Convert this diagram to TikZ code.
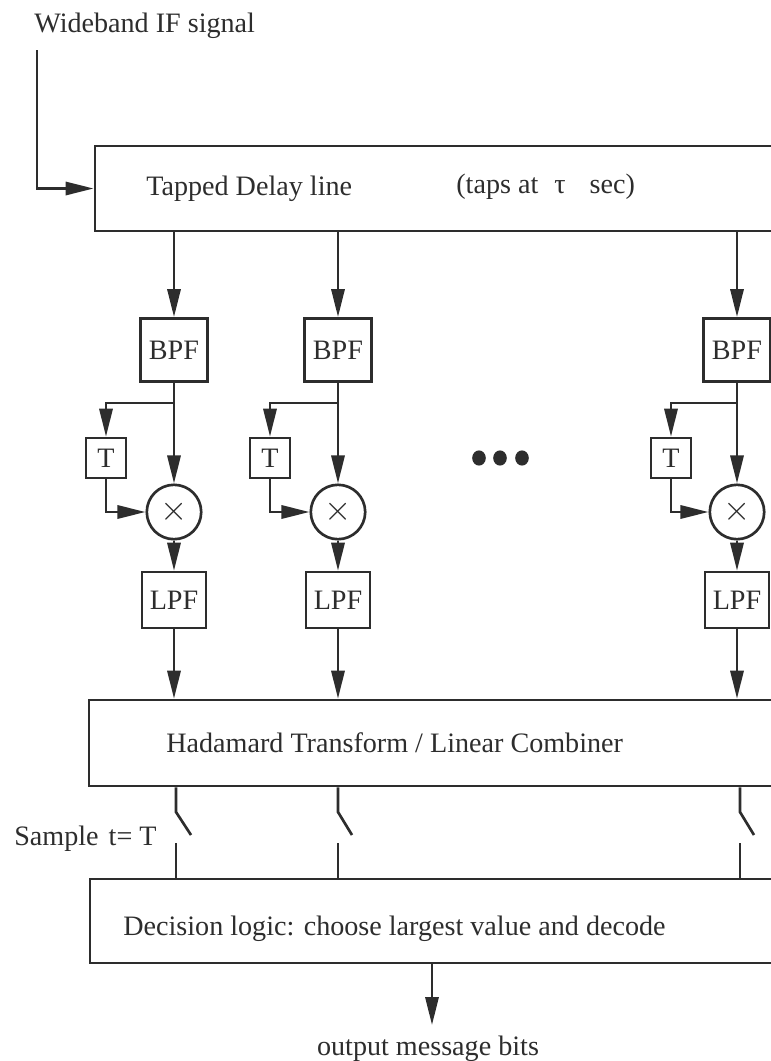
\documentclass[tikz,border=0pt]{standalone}
\usepackage{fontspec}
\setmainfont{Liberation Serif}
\usepackage{xcolor}
\usetikzlibrary{arrows.meta,positioning}
\definecolor{inkgray}{RGB}{45,45,45}

\begin{document}
\begin{tikzpicture}[x=0.025cm, y=-0.025cm, color=inkgray, line width=1.9pt,
    every node/.style={font=\fontsize{20}{24}\selectfont, inner sep=0pt},
    bigbox/.style={draw, minimum height=2.13cm},
    filterbox/.style={draw, minimum width=1.68cm, minimum height=1.58cm},
    lowbox/.style={draw, minimum width=1.6cm, minimum height=1.4cm},
    delaybox/.style={draw, minimum size=1cm},
    mixer/.style={draw, circle, minimum size=1.36cm, font=\fontsize{27}{27}\selectfont},
    sig/.style={-{Triangle[length=0.7cm, width=0.33cm]}}]
    \clip (0,0) rectangle (771,1061);

    % Input and delay line
    \node[anchor=base west] (inlabel) at (33,32) {Wideband IF signal};
    \coordinate (instart) at (37,50);
    \node[bigbox, minimum width=17.4cm] (tdl) at (443,188.5) {};
    \node[anchor=base west] (tdltext) at (145,195) {Tapped Delay line};
    \node[anchor=base west] (taptext) at (455,193) {(taps at\hspace{0.4cm}τ\hspace{0.6cm}sec)};
    \draw[sig] (instart) |- (tdl.west);

    % Combiner and decision blocks
    \node[bigbox, minimum width=17.55cm, minimum height=2.15cm] (had) at (440,743) {};
    \node[anchor=base west] (hadtext) at (165,752) {Hadamard Transform / Linear Combiner};
    \node[bigbox, minimum width=17.5cm, minimum height=2.1cm] (dec) at (440,921) {};
    \node[anchor=base west] (dectext) at (122,935) {Decision logic: choose largest value and decode};
    \node[anchor=base west] (samptext) at (13,845) {Sample\hspace{0.25cm}t= T};

    % Branch 1
    \node[filterbox] (bpf1) at (174,350) {BPF};
    \node[delaybox] (dly1) at (106,458) {T};
    \node[mixer] (mix1) at (174,512) {$\times$};
    \node[lowbox] (lpf1) at (174,600) {LPF};
    \coordinate (split1) at (174,403);
    \draw[sig] (tdl.south -| bpf1) -- (bpf1);
    \draw[sig] (bpf1) -- (mix1);
    \draw[sig] (split1) -| (dly1);
    \draw[sig] (dly1) |- (mix1);
    \draw[sig] (mix1) -- (lpf1);
    \draw[sig] (lpf1) -- (lpf1 |- had.north);
    \coordinate (piv1) at (176,812);
    \coordinate (tip1) at (191,835);
    \coordinate (con1) at (176,843);
    \draw (had.south -| piv1) -- (piv1) -- (tip1);
    \draw (dec.north -| con1) -- (con1);

    % Branch 2
    \node[filterbox] (bpf2) at (338,350) {BPF};
    \node[delaybox] (dly2) at (270,458) {T};
    \node[mixer] (mix2) at (338,512) {$\times$};
    \node[lowbox] (lpf2) at (338,600) {LPF};
    \coordinate (split2) at (338,403);
    \draw[sig] (tdl.south -| bpf2) -- (bpf2);
    \draw[sig] (bpf2) -- (mix2);
    \draw[sig] (split2) -| (dly2);
    \draw[sig] (dly2) |- (mix2);
    \draw[sig] (mix2) -- (lpf2);
    \draw[sig] (lpf2) -- (lpf2 |- had.north);
    \coordinate (piv2) at (338,812);
    \coordinate (tip2) at (352,835);
    \coordinate (con2) at (338,843);
    \draw (had.south -| piv2) -- (piv2) -- (tip2);
    \draw (dec.north -| con2) -- (con2);

    % Branch N
    \node[filterbox] (bpf3) at (737,350) {BPF};
    \node[delaybox] (dly3) at (671,458) {T};
    \node[mixer] (mix3) at (737,512) {$\times$};
    \node[lowbox] (lpf3) at (737,600) {LPF};
    \coordinate (split3) at (737,403);
    \draw[sig] (tdl.south -| bpf3) -- (bpf3);
    \draw[sig] (bpf3) -- (mix3);
    \draw[sig] (split3) -| (dly3);
    \draw[sig] (dly3) |- (mix3);
    \draw[sig] (mix3) -- (lpf3);
    \draw[sig] (lpf3) -- (lpf3 |- had.north);
    \coordinate (piv3) at (740,812);
    \coordinate (tip3) at (754,835);
    \coordinate (con3) at (740,843);
    \draw (had.south -| piv3) -- (piv3) -- (tip3);
    \draw (dec.north -| con3) -- (con3);

    % Dots
    \fill (479,458) circle[x radius=0.17cm, y radius=0.19cm];
    \fill (500,458) circle[x radius=0.17cm, y radius=0.19cm];
    \fill (522,458) circle[x radius=0.17cm, y radius=0.19cm];

    % Output
    \coordinate (outend) at (432,1025);
    \draw[sig] (dec.south -| outend) -- (outend);
    \node[anchor=base] (outtext) at (428,1055) {output message bits};
\end{tikzpicture}
\end{document}
